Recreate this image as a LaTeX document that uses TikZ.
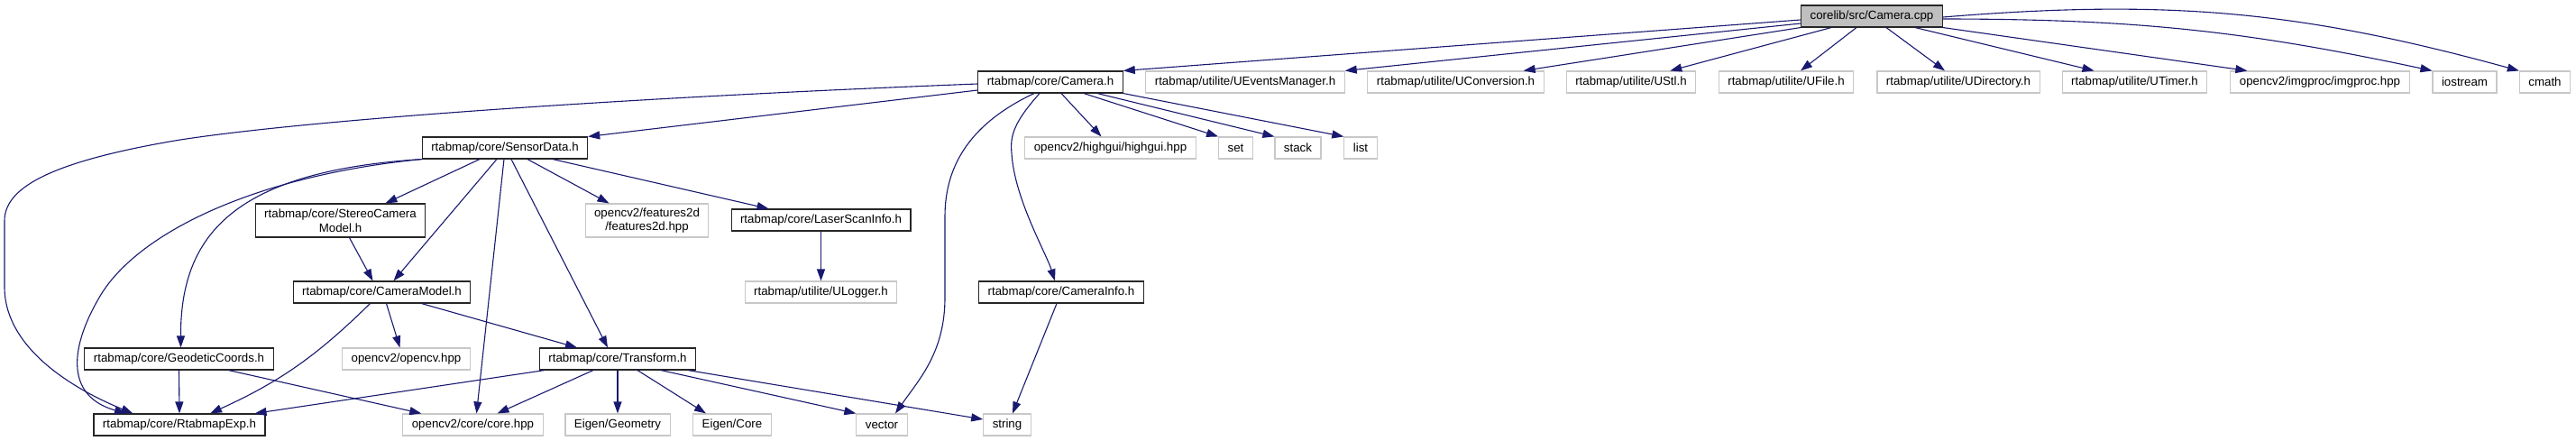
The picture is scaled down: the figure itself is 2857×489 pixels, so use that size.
\documentclass[tikz,border=0pt]{standalone}
\usepackage{fontspec}
\setmainfont{Liberation Sans}
\usetikzlibrary{arrows.meta}
\definecolor{edgeblue}{HTML}{191970}
\definecolor{extline}{HTML}{C8C8C8}
\definecolor{srcfill}{HTML}{BFBFBF}
\tikzset{hdr/.style={draw=black!85,line width=1.1pt,fill=white,inner xsep=10pt,inner ysep=0pt,minimum height=24pt,align=center,font=\fontsize{13.3}{15.5}\selectfont},ext/.style={hdr,draw=extline},src/.style={hdr,fill=srcfill},two/.style={minimum height=37pt},dep/.style={-{Triangle[length=13pt,width=9pt]},draw=edgeblue,line width=1.1pt}}

\begin{document}
\begin{tikzpicture}[x=1pt,y=-1pt]
\fill[white] (0,0) rectangle (2857,489);
\useasboundingbox (0,0) rectangle (2857,489);
\node[src] (cpp) at (2076,18) {corelib/src/Camera.cpp};
\node[hdr] (cam) at (1165,91) {rtabmap/core/Camera.h};
\node[ext] (uevt) at (1381,91) {rtabmap/utilite/UEventsManager.h};
\node[ext] (uconv) at (1614.5,91) {rtabmap/utilite/UConversion.h};
\node[ext] (ustl) at (1809,91) {rtabmap/utilite/UStl.h};
\node[ext] (ufile) at (1981,91) {rtabmap/utilite/UFile.h};
\node[ext] (udir) at (2172,91) {rtabmap/utilite/UDirectory.h};
\node[ext] (utimer) at (2367.5,91) {rtabmap/utilite/UTimer.h};
\node[ext] (imgproc) at (2573,91) {opencv2/imgproc/imgproc.hpp};
\node[ext] (iostream) at (2733.5,91) {iostream};
\node[ext] (cmath) at (2822.5,91) {cmath};
\node[hdr] (sd) at (560,164) {rtabmap/core/SensorData.h};
\node[ext] (highgui) at (1231.5,164) {opencv2/highgui/highgui.hpp};
\node[ext] (stdset) at (1370.5,164) {set};
\node[ext] (stdstack) at (1439.5,164) {stack};
\node[ext] (stdlist) at (1509,164) {list};
\node[hdr,two] (stereo) at (377.5,244.5) {rtabmap/core/StereoCamera\\Model.h};
\node[ext,two] (feat) at (717.5,244.5) {opencv2/features2d\\/features2d.hpp};
\node[hdr] (laser) at (910.5,244) {rtabmap/core/LaserScanInfo.h};
\node[hdr] (cmodel) at (423.5,324) {rtabmap/core/CameraModel.h};
\node[ext] (ulogger) at (910.5,324) {rtabmap/utilite/ULogger.h};
\node[hdr] (caminfo) at (1177,324) {rtabmap/core/CameraInfo.h};
\node[hdr] (geo) at (198.5,398) {rtabmap/core/GeodeticCoords.h};
\node[ext] (opencv) at (450.5,398) {opencv2/opencv.hpp};
\node[hdr] (tf) at (685,398) {rtabmap/core/Transform.h};
\node[hdr] (rexp) at (199,471) {rtabmap/core/RtabmapExp.h};
\node[ext] (corehpp) at (524.5,471) {opencv2/core/core.hpp};
\node[ext] (eigengeo) at (685,471) {Eigen/Geometry};
\node[ext] (eigencore) at (812,471) {Eigen/Core};
\node[ext] (vector) at (978,471) {vector};
\node[ext] (string) at (1117,471) {string};
\draw[dep] ([yshift=-4pt]cpp.west) -- (cam.north east);
\draw[dep] ([yshift=-8pt]cpp.west) -- (uevt.north east);
\draw[dep] (cpp.south west) -- ([xshift=-23pt]uconv.north east);
\draw[dep] ([xshift=34pt]cpp.south west) -- ([xshift=-29pt]ustl.north east);
\draw[dep] ([xshift=-17pt]cpp.south) -- ([xshift=16pt]ufile.north);
\draw[dep] ([xshift=16pt]cpp.south) -- ([xshift=-15pt]udir.north);
\draw[dep] ([xshift=48pt]cpp.south) -- ([xshift=-45pt]utimer.north);
\draw[dep] (cpp.south east) -- ([xshift=19pt]imgproc.north west);
\draw[dep] ([yshift=-3pt]cpp.east) to[bend left=6] (iostream.north west);
\draw[dep] ([yshift=-1pt]cpp.east) to[bend left=10] (cmath.north west);
\draw[dep] ([yshift=-9pt]cam.west) -- (sd.north east);
\draw[dep] ([yshift=-2pt]cam.west) .. controls (700,108) and (350,132) .. (200,155) .. controls (50,180) and (5,210) .. (5,245) -- (5,318) .. controls (5,390) and (90,435) .. ([xshift=44pt]rexp.north west);
\draw[dep] ([xshift=-18pt]cam.south) .. controls (1080,135) and (1048,180) .. (1048,240) -- (1048,330) .. controls (1048,390) and (1020,420) .. ([xshift=15pt]vector.north);
\draw[dep] ([xshift=-12pt]cam.south) .. controls (1125,135) and (1120,150) .. (1122,170) .. controls (1125,220) and (1160,280) .. ([xshift=-7pt]caminfo.north);
\draw[dep] ([xshift=12pt]cam.south) -- ([xshift=-10pt]highgui.north);
\draw[dep] ([xshift=37pt]cam.south) -- (stdset.north west);
\draw[dep] ([xshift=52pt]cam.south) -- (stdstack.north west);
\draw[dep] (cam.south east) -- (stdlist.north west);
\draw[dep] ([xshift=-28pt]sd.south) -- ([xshift=50pt]stereo.north);
\draw[dep] ([xshift=-9pt]sd.south) -- ([xshift=13pt]cmodel.north);
\draw[dep] ([xshift=-1pt]sd.south) -- ([xshift=4pt]corehpp.north);
\draw[dep] ([xshift=7pt]sd.south) -- ([xshift=-11pt]tf.north);
\draw[dep] ([xshift=25pt]sd.south) -- ([xshift=27pt]feat.north west);
\draw[dep] ([xshift=53pt]sd.south) -- ([xshift=42pt]laser.north west);
\draw[dep] (sd.south west) .. controls (260,190) and (200,260) .. ([xshift=2pt]geo.north);
\draw[dep] (sd.south west) .. controls (280,195) and (150,260) .. (110,330) .. controls (75,390) and (75,440) .. ([xshift=-59pt]rexp.north);
\draw[dep] ([xshift=10pt]stereo.south) -- ([xshift=-10pt]cmodel.north);
\draw[dep] ([xshift=-13pt]cmodel.south) to[bend left=10] ([xshift=34pt]rexp.north);
\draw[dep] ([xshift=5pt]cmodel.south) -- ([xshift=-7pt]opencv.north);
\draw[dep] ([xshift=44pt]cmodel.south) -- ([xshift=-45pt]tf.north);
\draw[dep] (laser.south) -- (ulogger.north);
\draw[dep] ([xshift=-5pt]caminfo.south) -- ([xshift=6pt]string.north);
\draw[dep] (geo.south) -- (rexp.north);
\draw[dep] ([xshift=55pt]geo.south) -- ([xshift=21pt]corehpp.north west);
\draw[dep] ([xshift=6pt]tf.south west) -- ([xshift=-12pt]rexp.north east);
\draw[dep] ([xshift=-27pt]tf.south) -- ([xshift=27pt]corehpp.north);
\draw[dep] (tf.south) -- (eigengeo.north);
\draw[dep] ([xshift=22pt]tf.south) -- ([xshift=-29pt]eigencore.north);
\draw[dep] ([xshift=48pt]tf.south) -- (vector.north west);
\draw[dep] ([xshift=78pt]tf.south) -- ([yshift=6pt]string.west);
\end{tikzpicture}
\end{document}
